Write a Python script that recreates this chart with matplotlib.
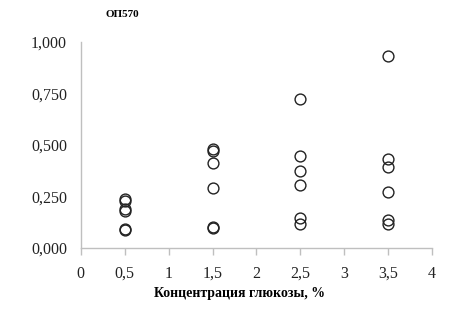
import matplotlib
matplotlib.use("Agg")
import matplotlib.pyplot as plt
from matplotlib.ticker import FuncFormatter, MultipleLocator

conc_05 = [0.238, 0.228, 0.189, 0.180, 0.092, 0.087]
conc_15 = [0.478, 0.470, 0.414, 0.293, 0.103, 0.097]
conc_25 = [0.722, 0.448, 0.374, 0.306, 0.145, 0.115]
conc_35 = [0.929, 0.432, 0.395, 0.273, 0.136, 0.117]
x_levels = [0.5, 1.5, 2.5, 3.5]
series = [conc_05, conc_15, conc_25, conc_35]

plt.rcParams['font.family'] = ['Liberation Serif', 'DejaVu Serif']

fig = plt.figure(figsize=(4.62, 3.13), dpi=100)
ax = fig.add_axes([0.175, 0.2077, 0.76, 0.659])

for xv, ys in zip(x_levels, series):
    ax.plot([xv] * len(ys), ys, linestyle='none', marker='o', markersize=7.8,
            markerfacecolor='none', markeredgecolor='#222222', markeredgewidth=1.0,
            clip_on=False)

ax.set_xlim(0, 4)
ax.set_ylim(0, 1)
ax.xaxis.set_major_locator(MultipleLocator(0.5))
ax.yaxis.set_major_locator(MultipleLocator(0.25))

def fmt_x(v, pos):
    s = f"{v:g}"
    return s.replace('.', ',')

def fmt_y(v, pos):
    return f"{v:.3f}".replace('.', ',')

ax.xaxis.set_major_formatter(FuncFormatter(fmt_x))
ax.yaxis.set_major_formatter(FuncFormatter(fmt_y))

for s in ['top', 'right']:
    ax.spines[s].set_visible(False)
for s in ['left', 'bottom']:
    ax.spines[s].set_color('#BFBFBF')
    ax.spines[s].set_linewidth(1.0)

ax.tick_params(axis='x', direction='out', length=5, width=1, color='#BFBFBF',
               labelsize=11.5, pad=8, labelcolor='#222222')
ax.tick_params(axis='y', length=0, labelsize=11.5, pad=10, labelcolor='#222222')

ax.set_xlabel('Концентрация глюкозы, %', fontsize=10, fontweight='bold', labelpad=6)
ax.xaxis.set_label_coords(0.453, -0.19)
fig.text(0.228, 0.955, 'ОП570', fontsize=8, fontweight='bold', ha='left', va='center')

fig.savefig('out.png', dpi=100)
